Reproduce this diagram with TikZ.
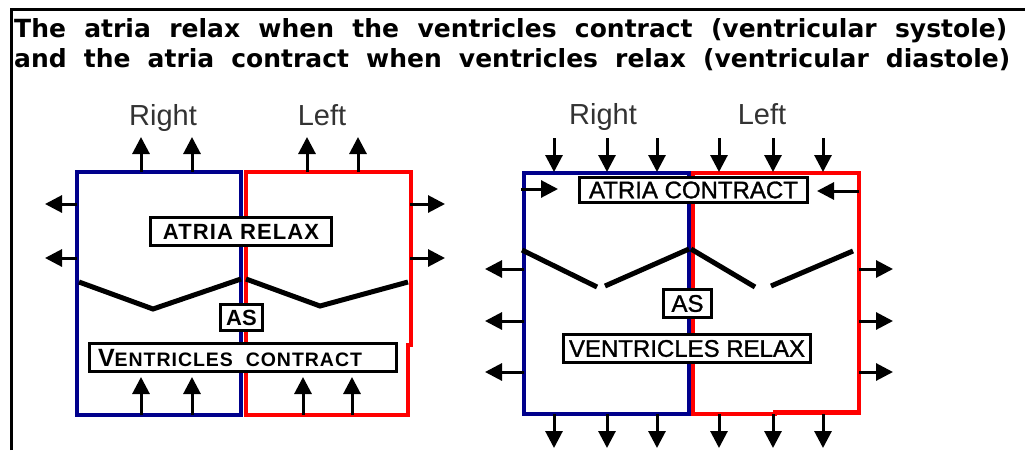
\documentclass[tikz,border=0pt]{standalone}
\usepackage{fontspec}
\setmainfont{Liberation Sans}
\newfontfamily\boxfont[LetterSpace=5]{Liberation Sans}
\newfontfamily\medfont[FakeBold=1.2]{Liberation Sans}
\newfontfamily\titlefont{DejaVu Sans}
\usetikzlibrary{arrows.meta}
\definecolor{heartblue}{RGB}{0,0,140}
\definecolor{heartred}{RGB}{255,0,0}
\tikzset{
  wall/.style={line width=4.5pt,line join=miter},
  zig/.style={line width=5pt},
  flow/.style={line width=3pt,-{Triangle[length=17pt,width=17pt]}},
  lab/.style={anchor=base,inner sep=0pt,text=black!80,font=\fontsize{29}{29}\selectfont},
  tag/.style={draw=black,fill=white,line width=2.8pt,inner sep=0pt,text=black},
  tagL/.style={tag,font=\boxfont\bfseries},
  tagR/.style={tag,font=\medfont\fontsize{24}{24}\selectfont},
  ttl/.style={anchor=base west,inner sep=0pt,font=\titlefont\bfseries\fontsize{25}{30}\selectfont}
}
\begin{document}
\begin{tikzpicture}[x=1pt,y=-1pt]
\useasboundingbox (0,0) rectangle (1025,450);
\fill[white] (0,0) rectangle (1025,450);
% frame
\coordinate (fb) at (11,450);
\coordinate (fc) at (11,9.5);
\coordinate (fr) at (1025,9.5);
\draw[line width=3pt] (fb) -- (fc) -- (fr);
% title
\node[ttl] (t1) at (14,37) {\makebox[993pt][s]{The atria relax when the ventricles contract (ventricular systole)}};
\node[ttl] (t2) at (14,67) {\makebox[996pt][s]{and the atria contract when ventricles relax (ventricular diastole)}};

% ================= left diagram =================
\node[lab] (lr) at (163,125) {Right};
\node[lab] (ll) at (322,125) {Left};
\draw[wall,heartblue] (241,172) -- (77,172) -- (77,415) -- (241,415) -- cycle;
\draw[wall,heartred] (246,172) -- (411,172) -- (411,345) -- (408,345) -- (408,415) -- (246,415) -- cycle;
% valves
\coordinate (lz1) at (79,282); \coordinate (lz2) at (153,309); \coordinate (lz3) at (241,279);
\coordinate (lz4) at (246,279); \coordinate (lz5) at (320,306); \coordinate (lz6) at (408,282);
\draw[zig] (lz1) -- (lz2) -- (lz3);
\draw[zig] (lz4) -- (lz5) -- (lz6);
% labels
\node[tagL,minimum width=181pt,minimum height=28pt,font=\boxfont\bfseries\fontsize{22}{22}\selectfont] (lar) at (241,231.5) {ATRIA RELAX};
\node[tagL,minimum width=42pt,minimum height=26pt,font=\bfseries\fontsize{22}{22}\selectfont] (las) at (241.5,317.5) {AS};
\node[tagL,minimum width=307pt,minimum height=28pt,inner xsep=0pt,font=\boxfont\bfseries\fontsize{19.5}{20}\selectfont] (lvc) at (243,357.5) {\makebox[290pt][l]{{\fontsize{25}{25}\selectfont V}ENTRICLES\ \ CONTRACT}};
% arrows
\foreach \x [count=\i] in {141,192,307,358}{
  \coordinate (lu\i s) at (\x,172); \coordinate (lu\i e) at (\x,137);
  \draw[flow] (lu\i s) -- (lu\i e);
}
\foreach \x [count=\i] in {141,192,303,352}{
  \coordinate (lb\i s) at (\x,415); \coordinate (lb\i e) at (\x,377);
  \draw[flow] (lb\i s) -- (lb\i e);
}
\foreach \y [count=\i] in {204,258}{
  \coordinate (lw\i s) at (77,\y); \coordinate (lw\i e) at (45,\y);
  \draw[flow] (lw\i s) -- (lw\i e);
  \coordinate (le\i s) at (410,\y); \coordinate (le\i e) at (445,\y);
  \draw[flow] (le\i s) -- (le\i e);
}

% ================= right diagram =================
\node[lab] (rr) at (603,124) {Right};
\node[lab] (rl) at (762,124) {Left};
\draw[wall,heartblue] (689,173) -- (524,173) -- (524,414) -- (689,414) -- cycle;
\draw[wall,heartred] (693,173) -- (859,173) -- (859,412.5) -- (775,412.5) -- (775,414) -- (693,414) -- cycle;
% valves
\coordinate (rz1) at (522,250); \coordinate (rz2) at (597,287);
\coordinate (rz3) at (605,286); \coordinate (rz4) at (689,249);
\coordinate (rz5) at (691,249); \coordinate (rz6) at (755,287);
\coordinate (rz7) at (771,286); \coordinate (rz8) at (853,251);
\draw[zig] (rz1) -- (rz2);
\draw[zig] (rz3) -- (rz4);
\draw[zig] (rz5) -- (rz6);
\draw[zig] (rz7) -- (rz8);
% labels
\node[tagR,minimum width=228pt,minimum height=25pt] (rac) at (693.5,190) {ATRIA CONTRACT};
\node[tagR,minimum width=48pt,minimum height=28pt] (ras) at (687.5,303.5) {AS};
\node[tagR,minimum width=247pt,minimum height=28pt] (rvr) at (687,348.5) {VENTRICLES RELAX};
% arrows
\foreach \x [count=\i] in {554,607,657,719,773,823}{
  \coordinate (rt\i s) at (\x,138); \coordinate (rt\i e) at (\x,172);
  \draw[flow] (rt\i s) -- (rt\i e);
  \coordinate (rb\i s) at (\x,414); \coordinate (rb\i e) at (\x,448);
  \draw[flow] (rb\i s) -- (rb\i e);
}
\coordinate (ri1s) at (521,189); \coordinate (ri1e) at (558,189);
\draw[flow] (ri1s) -- (ri1e);
\coordinate (ri2s) at (859,191); \coordinate (ri2e) at (817,191);
\draw[flow] (ri2s) -- (ri2e);
\foreach \y [count=\i] in {269,321,372}{
  \coordinate (rw\i s) at (524,\y); \coordinate (rw\i e) at (485,\y);
  \draw[flow] (rw\i s) -- (rw\i e);
  \coordinate (re\i s) at (859,\y); \coordinate (re\i e) at (893,\y);
  \draw[flow] (re\i s) -- (re\i e);
}
\end{tikzpicture}
\end{document}
